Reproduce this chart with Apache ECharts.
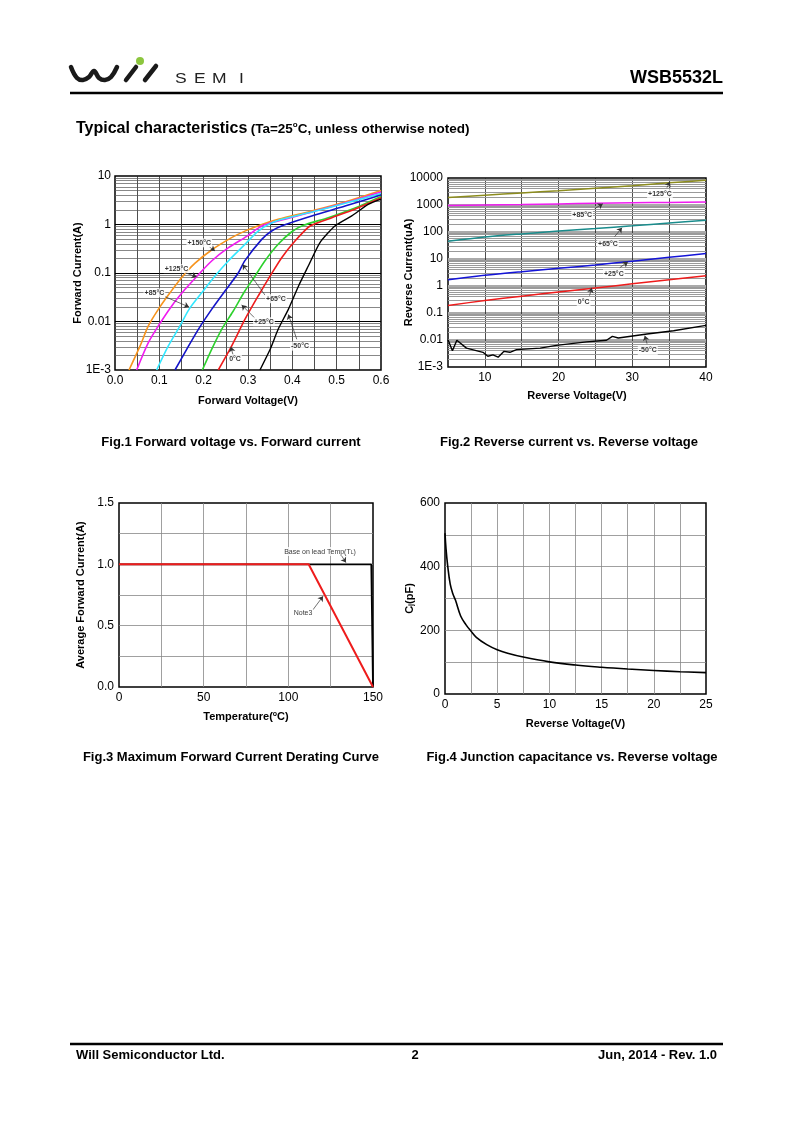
<!DOCTYPE html>
<html><head><meta charset="utf-8">
<script src="https://cdn.jsdelivr.net/npm/echarts@6/dist/echarts.min.js"></script>
<style>html,body{margin:0;padding:0;background:#fff}#c{width:800px;height:1131px}</style>
</head><body><div id="c"></div>
<script>
// ---------- Fig.1 Forward voltage vs forward current ----------
const fwdTickLabels = ['1E-3', '0.01', '0.1', '1', '10'];
const fwd150 = [[0.0316,0.001],[0.0564,0.0031],[0.0752,0.0081],[0.0977,0.0178],[0.124,0.039],[0.150,0.080],[0.180,0.158],[0.218,0.298],[0.263,0.535],[0.293,0.73],[0.331,1.0],[0.368,1.28],[0.444,1.9],[0.519,2.9],[0.6,5.0]];
const fwd125 = [[0.0489,0.001],[0.0752,0.00366],[0.0977,0.0081],[0.128,0.0209],[0.158,0.046],[0.184,0.084],[0.218,0.177],[0.256,0.333],[0.297,0.57],[0.331,0.93],[0.368,1.18],[0.444,1.81],[0.519,2.8],[0.6,4.7]];
const fwd85 = [[0.094,0.001],[0.120,0.0031],[0.1466,0.0081],[0.167,0.0178],[0.1955,0.039],[0.2256,0.0867],[0.2556,0.177],[0.2857,0.333],[0.323,0.73],[0.346,1.0],[0.376,1.28],[0.444,1.81],[0.519,2.73],[0.6,4.35]];
const fwd65 = [[0.1353,0.001],[0.1617,0.00267],[0.188,0.0069],[0.218,0.0178],[0.248,0.0425],[0.278,0.10],[0.293,0.18],[0.331,0.494],[0.3534,0.734],[0.3797,0.96],[0.4436,1.5],[0.519,2.4],[0.6,4.05]];
const fwd25 = [[0.197,0.001],[0.218,0.00267],[0.2406,0.0069],[0.265,0.0155],[0.293,0.0425],[0.316,0.087],[0.338,0.177],[0.368,0.39],[0.398,0.70],[0.425,0.96],[0.481,1.38],[0.534,2.06],[0.6,3.8]];
const fwd0 = [[0.233,0.001],[0.263,0.0031],[0.293,0.011],[0.323,0.0336],[0.350,0.087],[0.376,0.207],[0.406,0.457],[0.44,0.93],[0.489,1.38],[0.541,2.06],[0.6,3.55]];
const fwdM50 = [[0.327,0.001],[0.35,0.00267],[0.368,0.0069],[0.391,0.0178],[0.414,0.054],[0.436,0.139],[0.462,0.42],[0.496,0.93],[0.534,1.5],[0.571,2.6],[0.6,3.35]];
const fig1Notes = [
  ['+150°C', [0.19,0.42], [0.213,0.345], [0.2256,0.284]],
  ['+125°C', [0.1387,0.123], [0.158,0.1016], [0.184,0.083]],
  ['+85°C', [0.089,0.039], [0.1128,0.0325], [0.167,0.0199]],
  ['+65°C', [0.363,0.0295], [0.3383,0.0351], [0.288,0.15]],
  ['+25°C', [0.336,0.0099], [0.316,0.0116], [0.2857,0.0219]],
  ['0°C', [0.2707,0.00166], [0.266,0.0021], [0.261,0.003]],
  ['-50°C', [0.4173,0.0031], [0.41,0.0043], [0.391,0.014]]
];

// ---------- Fig.2 Reverse current vs reverse voltage ----------
const revTickLabels = ['1E-3', '0.01', '0.1', '1', '10', '100', '1000', '10000'];
const revV = [5, 10, 15, 20, 25, 30, 35, 40];
const rev125 = [1900, 2300, 2800, 3400, 4200, 5200, 6600, 8300];
const rev85 = [950, 1000, 1040, 1100, 1150, 1200, 1250, 1300];
const rev65 = [45, 65, 85, 108, 135, 170, 215, 270];
const rev25 = [1.7, 2.5, 3.4, 4.5, 6.0, 8.3, 11.5, 16];
const rev0 = [0.19, 0.29, 0.42, 0.6, 0.85, 1.2, 1.7, 2.4];
const revM50 = [[5,0.0103],[5.6,0.004],[6.2,0.0098],[7.5,0.005],[9.75,0.0035],[10.4,0.0025],[11.1,0.0028],[11.8,0.0023],[12.6,0.0038],[13.4,0.0035],[14.3,0.0044],[17.5,0.005],[19.7,0.0063],[23.8,0.0085],[26.5,0.0098],[27.3,0.0136],[28.1,0.0119],[32,0.0167],[35.6,0.022],[40,0.0347]];
const fig2Notes = [
  ['+125°C', [33.75,2620], [34.7,4370], [35.1,7300]],
  ['+85°C', [23.2,412], [24.9,730], [26,1117]],
  ['+65°C', [26.7,37], [27.6,67], [28.6,144]],
  ['+25°C', [27.5,2.86], [28.3,4.76], [29.4,7.9]],
  ['0°C', [23.4,0.262], [24.2,0.438], [24.5,0.86]],
  ['-50°C', [32.1,0.0041], [32,0.0073], [31.7,0.0145]]
];

// ---------- Fig.3 Derating ----------
const derateLeadT = [0, 149, 150];
const derateLeadI = [1, 1, 0];
const derateNoteT = [0, 112, 150];
const derateNoteI = [1, 1, 0];
const fig3Notes = [
  ['Base on lead Temp(T{s|L})', [118.7,1.104], [131.5,1.069], [134,1.014]],
  ['Note3', [108.7,0.6], [114.4,0.627], [120.5,0.74]]
];

// ---------- Fig.4 Junction capacitance ----------
const capV = [0, 0.1, 0.25, 0.5, 0.75, 1, 1.5, 2, 2.5, 3, 4, 5, 6, 7.5, 10, 12.5, 15, 17.5, 20, 22.5, 25];
const capC = [505, 455, 405, 345, 315, 295, 245, 218, 197, 178, 155, 139, 128, 116, 101, 91, 84, 78.5, 74, 70, 67];

// ---------- build ----------
const FONT = '"Liberation Sans", Arial, Helvetica, sans-serif';
const chart = echarts.init(document.getElementById('c'), null, {renderer: 'canvas', width: 800, height: 1131});

const zip = (xs, ys) => xs.map((x, i) => [x, ys[i]]);
const nameStyle = {fontFamily: FONT, fontWeight: 'bold', fontSize: 11, color: '#000',
  rich: {s: {fontFamily: FONT, fontWeight: 'bold', fontSize: 7, verticalAlign: 'top', lineHeight: 8},
         j: {fontFamily: FONT, fontWeight: 'bold', fontSize: 7, verticalAlign: 'bottom', lineHeight: 8}}};
const labelStyle = {color: '#000', fontSize: 12, fontFamily: FONT};

function line(data, color, idx, width, smooth) {
  return {type: 'line', xAxisIndex: idx, yAxisIndex: idx, data: data, symbol: 'none', showSymbol: false,
    smooth: smooth, lineStyle: {color: color, width: width}, silent: true, z: 3};
}
function logMinor(idx, e0, e1, x0, y0, color, width) {
  const d = [];
  for (let e = e0; e < e1; e++) for (let m = 2; m <= 9; m++) d.push({yAxis: m * Math.pow(10, e)});
  return {type: 'line', xAxisIndex: idx, yAxisIndex: idx, data: [[x0, y0]], symbol: 'none',
    lineStyle: {opacity: 0}, silent: true, z: 1,
    markLine: {silent: true, z: 1, symbol: ['none', 'none'], precision: 8, label: {show: false},
      lineStyle: {color: color, width: width, type: 'solid'}, data: d, animation: false}};
}
function notes(idx, list, fontSize, weight) {
  return {type: 'scatter', xAxisIndex: idx, yAxisIndex: idx, symbol: 'rect', symbolSize: 1,
    itemStyle: {color: 'rgba(0,0,0,0)'}, silent: true, z: 8,
    data: list.map(n => ({name: n[0], value: n[1]})),
    label: {show: true, position: 'inside', formatter: '{b}', color: '#000', fontSize: fontSize,
      fontWeight: weight, fontFamily: FONT, backgroundColor: '#fff', padding: [1, 1],
      rich: {s: {fontSize: 5, verticalAlign: 'bottom', fontFamily: FONT, color: '#000'}}},
    markLine: {silent: true, z: 7, symbol: ['none', 'arrow'], symbolSize: 5, label: {show: false},
      lineStyle: {color: '#333', width: 0.7, type: 'solid'}, animation: false,
      data: list.map(n => [{coord: n[2]}, {coord: n[3]}])}};
}
const noTick = {show: false};
const noLine = {show: false};

const option = {
  animation: false,
  backgroundColor: '#fff',
  grid: [
    {left: 115, top: 176, width: 266, height: 194},
    {left: 448, top: 178, width: 258, height: 189},
    {left: 119, top: 503, width: 254, height: 184},
    {left: 445, top: 503, width: 261, height: 191}
  ].map(g => Object.assign({show: true, borderColor: '#000', borderWidth: 1.5, backgroundColor: '#fff'}, g)),
  xAxis: [
    {gridIndex: 0, type: 'value', min: 0, max: 0.6, interval: 0.1, axisLine: noLine, axisTick: noTick,
     axisLabel: Object.assign({formatter: v => v.toFixed(1), margin: 5}, labelStyle),
     splitLine: {show: true, showMinLine: false, showMaxLine: false, lineStyle: {color: '#222', width: 0.8}},
     minorTick: {show: true, splitNumber: 2, length: 0},
     minorSplitLine: {show: true, lineStyle: {color: '#222', width: 0.8}},
     name: 'Forward Voltage(V)', nameLocation: 'middle', nameGap: 25, nameTextStyle: nameStyle},
    {gridIndex: 1, type: 'value', min: 5, max: 40, interval: 5, axisLine: noLine, axisTick: noTick,
     axisLabel: Object.assign({formatter: v => (v % 10 === 0 ? String(v) : ''), margin: 5}, labelStyle),
     splitLine: {show: true, showMinLine: false, showMaxLine: false, lineStyle: {color: '#222', width: 0.8}},
     name: 'Reverse Voltage(V)', nameLocation: 'middle', nameGap: 23, nameTextStyle: nameStyle},
    {gridIndex: 2, type: 'value', min: 0, max: 150, interval: 50, axisLine: noLine, axisTick: noTick,
     axisLabel: Object.assign({margin: 5}, labelStyle),
     splitLine: {show: true, showMinLine: false, showMaxLine: false, lineStyle: {color: '#888', width: 0.8}},
     minorTick: {show: true, splitNumber: 2, length: 0},
     minorSplitLine: {show: true, lineStyle: {color: '#888', width: 0.8}},
     name: 'Temperature({s|o}C)', nameLocation: 'middle', nameGap: 24, nameTextStyle: nameStyle},
    {gridIndex: 3, type: 'value', min: 0, max: 25, interval: 5, axisLine: noLine, axisTick: noTick,
     axisLabel: Object.assign({margin: 5}, labelStyle),
     splitLine: {show: true, showMinLine: false, showMaxLine: false, lineStyle: {color: '#888', width: 0.8}},
     minorTick: {show: true, splitNumber: 2, length: 0},
     minorSplitLine: {show: true, lineStyle: {color: '#888', width: 0.8}},
     name: 'Reverse Voltage(V)', nameLocation: 'middle', nameGap: 24, nameTextStyle: nameStyle}
  ],
  yAxis: [
    {gridIndex: 0, type: 'log', logBase: 10, min: 0.001, max: 10, splitNumber: 4, axisLine: noLine, axisTick: noTick,
     axisLabel: Object.assign({formatter: v => fwdTickLabels[Math.round(Math.log10(v)) + 3], margin: 4}, labelStyle),
     splitLine: {show: true, showMinLine: false, showMaxLine: false, lineStyle: {color: '#000', width: 1}},
     name: 'Forward Current(A)', nameLocation: 'middle', nameGap: 32, nameMoveOverlap: false, nameRotate: 90, nameTextStyle: nameStyle},
    {gridIndex: 1, type: 'log', logBase: 10, min: 0.001, max: 10000, splitNumber: 7, axisLine: noLine, axisTick: noTick,
     axisLabel: Object.assign({formatter: v => revTickLabels[Math.round(Math.log10(v)) + 3], margin: 5}, labelStyle),
     splitLine: {show: true, showMinLine: false, showMaxLine: false, lineStyle: {color: '#aaa', width: 2}},
     name: 'Reverse Current(uA)', nameLocation: 'middle', nameGap: 34, nameMoveOverlap: false, nameRotate: 90, nameTextStyle: nameStyle},
    {gridIndex: 2, type: 'value', min: 0, max: 1.5, interval: 0.5, axisLine: noLine, axisTick: noTick,
     axisLabel: Object.assign({formatter: v => v.toFixed(1), margin: 5}, labelStyle),
     splitLine: {show: true, showMinLine: false, showMaxLine: false, lineStyle: {color: '#888', width: 0.8}},
     minorTick: {show: true, splitNumber: 2, length: 0},
     minorSplitLine: {show: true, lineStyle: {color: '#888', width: 0.8}},
     name: 'Average Forward Current(A)', nameLocation: 'middle', nameGap: 33, nameRotate: 90, nameTextStyle: nameStyle},
    {gridIndex: 3, type: 'value', min: 0, max: 600, interval: 200, axisLine: noLine, axisTick: noTick,
     axisLabel: Object.assign({margin: 5}, labelStyle),
     splitLine: {show: true, showMinLine: false, showMaxLine: false, lineStyle: {color: '#888', width: 0.8}},
     minorTick: {show: true, splitNumber: 2, length: 0},
     minorSplitLine: {show: true, lineStyle: {color: '#888', width: 0.8}},
     name: 'C{j|j}(pF)', nameLocation: 'middle', nameGap: 30, nameRotate: 90, nameTextStyle: nameStyle}
  ],
  series: [
    logMinor(0, -3, 1, 0, 0.001, '#555', 0.7),
    line(fwd150, '#f7941d', 0, 1.6, 0.3),
    line(fwd125, '#f01cf0', 0, 1.6, 0.3),
    line(fwd85, '#33e8ff', 0, 1.6, 0.3),
    line(fwd65, '#1414c8', 0, 1.6, 0.25),
    line(fwd25, '#2ed12e', 0, 1.6, 0.25),
    line(fwd0, '#ee1c1c', 0, 1.6, 0.2),
    line(fwdM50, '#000000', 0, 1.4, 0.2),
    notes(0, fig1Notes, 7, 'bold'),

    logMinor(1, -3, 4, 5, 0.001, '#9a9a9a', 1),
    line(zip(revV, rev125), '#8c8c1e', 1, 1.5, 0.3),
    line(zip(revV, rev85), '#f01cf0', 1, 1.5, 0.3),
    line(zip(revV, rev65), '#1a8c8c', 1, 1.5, 0.3),
    line(zip(revV, rev25), '#1414d8', 1, 1.5, 0.3),
    line(zip(revV, rev0), '#ee1c1c', 1, 1.5, 0.3),
    line(revM50, '#000000', 1, 1.4, false),
    notes(1, fig2Notes, 7, 'bold'),

    line(zip(derateLeadT, derateLeadI), '#000000', 2, 1.8, false),
    line(zip(derateNoteT, derateNoteI), '#ee1c1c', 2, 2, false),
    notes(2, fig3Notes, 7, 'normal'),

    line(zip(capV, capC), '#000000', 3, 1.6, 0.4)
  ],
  graphic: [
    // logo
    {type: 'polyline', shape: {points: [[71,67],[77,78],[83,80],[89,77],[94,71],[99,78],[105,80],[111,77],[117,67]], smooth: 0.4},
     style: {stroke: '#1a1a1a', lineWidth: 4.5, fill: null, lineCap: 'round', lineJoin: 'round'}},
    {type: 'line', shape: {x1: 126, y1: 80, x2: 136, y2: 67}, style: {stroke: '#1a1a1a', lineWidth: 4.5, lineCap: 'round'}},
    {type: 'line', shape: {x1: 145, y1: 80, x2: 156, y2: 66}, style: {stroke: '#1a1a1a', lineWidth: 4.5, lineCap: 'round'}},
    {type: 'circle', shape: {cx: 140, cy: 61, r: 4}, style: {fill: '#8cc63e'}},
    {type: 'text', x: 175, y: 86, scaleX: 1.25, style: {text: 'S', font: '14px ' + FONT, fill: '#222', verticalAlign: 'bottom'}},
    {type: 'text', x: 194, y: 86, scaleX: 1.25, style: {text: 'E', font: '14px ' + FONT, fill: '#222', verticalAlign: 'bottom'}},
    {type: 'text', x: 212, y: 86, scaleX: 1.25, style: {text: 'M', font: '14px ' + FONT, fill: '#222', verticalAlign: 'bottom'}},
    {type: 'text', x: 239, y: 86, scaleX: 1.25, style: {text: 'I', font: '14px ' + FONT, fill: '#222', verticalAlign: 'bottom'}},
    {type: 'text', x: 723, y: 87, style: {text: 'WSB5532L', font: 'bold 18px ' + FONT, fill: '#000', align: 'right', verticalAlign: 'bottom'}},
    {type: 'line', shape: {x1: 70, y1: 93, x2: 723, y2: 93}, style: {stroke: '#000', lineWidth: 2.5}},
    {type: 'text', x: 76, y: 129, style: {
      text: '{a|Typical characteristics} {b|(Ta=25}{c|o}{b|C, unless otherwise noted)}',
      verticalAlign: 'middle',
      rich: {a: {font: 'bold 16px ' + FONT, fill: '#000'}, b: {font: 'bold 13.5px ' + FONT, fill: '#000'},
             c: {font: 'bold 8px ' + FONT, fill: '#000', verticalAlign: 'top'}}}},
    // captions
    {type: 'text', x: 231, y: 442, style: {text: 'Fig.1 Forward voltage vs. Forward current', font: 'bold 13px ' + FONT, fill: '#000', align: 'center', verticalAlign: 'middle'}},
    {type: 'text', x: 569, y: 442, style: {text: 'Fig.2 Reverse current vs. Reverse voltage', font: 'bold 13px ' + FONT, fill: '#000', align: 'center', verticalAlign: 'middle'}},
    {type: 'text', x: 231, y: 757, style: {text: 'Fig.3 Maximum Forward Current Derating Curve', font: 'bold 13px ' + FONT, fill: '#000', align: 'center', verticalAlign: 'middle'}},
    {type: 'text', x: 572, y: 757, style: {text: 'Fig.4 Junction capacitance vs. Reverse voltage', font: 'bold 13px ' + FONT, fill: '#000', align: 'center', verticalAlign: 'middle'}},
    // footer
    {type: 'line', shape: {x1: 70, y1: 1044, x2: 723, y2: 1044}, style: {stroke: '#000', lineWidth: 2.5}},
    {type: 'text', x: 76, y: 1055, style: {text: 'Will Semiconductor Ltd.', font: 'bold 13px ' + FONT, fill: '#000', verticalAlign: 'middle'}},
    {type: 'text', x: 415, y: 1055, style: {text: '2', font: 'bold 13px ' + FONT, fill: '#000', align: 'center', verticalAlign: 'middle'}},
    {type: 'text', x: 717, y: 1055, style: {text: 'Jun, 2014 - Rev. 1.0', font: 'bold 13px ' + FONT, fill: '#000', align: 'right', verticalAlign: 'middle'}}
  ]
};
chart.setOption(option);
</script></body></html>
